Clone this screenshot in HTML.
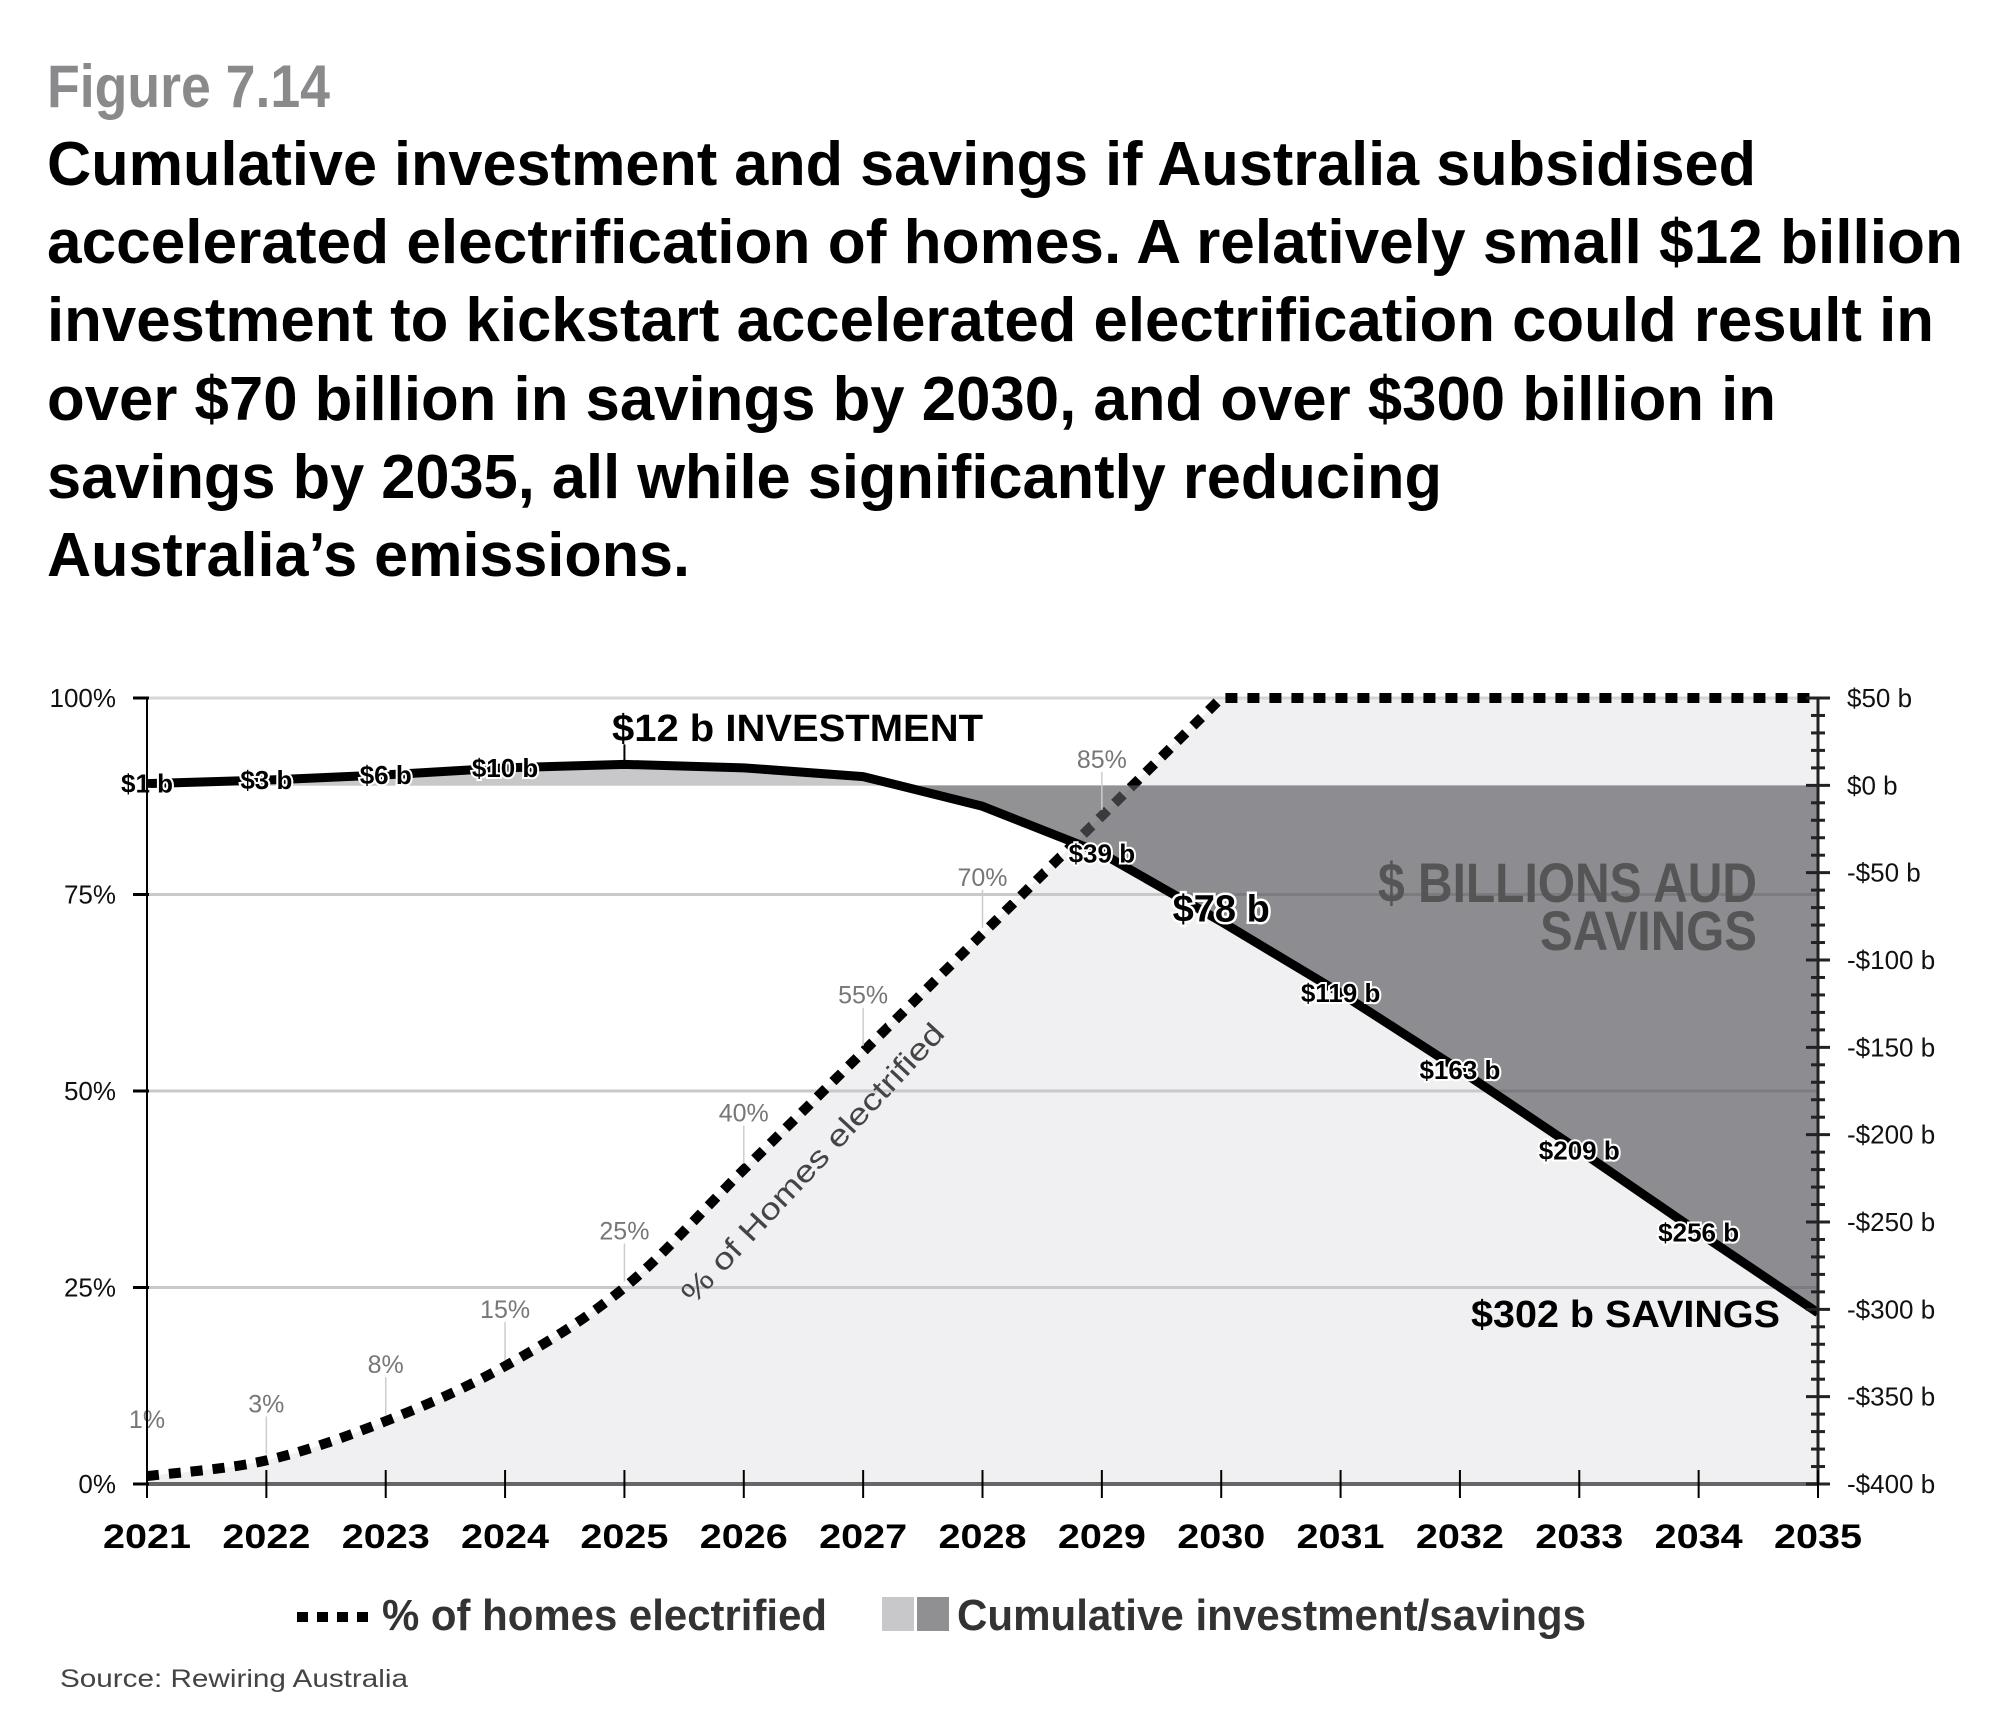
<!DOCTYPE html>
<html><head><meta charset="utf-8"><style>
html,body{margin:0;padding:0;background:#fff;}
svg{display:block;font-family:"Liberation Sans",sans-serif;}
</style></head><body>
<svg id="chart" width="2000" height="1722" viewBox="0 0 2000 1722" xmlns="http://www.w3.org/2000/svg">
<defs>
<clipPath id="clipPos"><rect x="0" y="0" width="2000" height="785"/></clipPath>
<clipPath id="clipNeg"><rect x="0" y="785" width="2000" height="900"/></clipPath>
</defs>
<text x="47" y="107" font-size="60" font-weight="bold" fill="#8a8a8c" textLength="283" lengthAdjust="spacingAndGlyphs">Figure 7.14</text>
<g font-size="62" font-weight="bold" fill="#000">
<text x="47" y="185" textLength="1709" lengthAdjust="spacingAndGlyphs">Cumulative investment and savings if Australia subsidised</text>
<text x="47" y="263" textLength="1916" lengthAdjust="spacingAndGlyphs">accelerated electrification of homes. A relatively small $12 billion</text>
<text x="47" y="341" textLength="1887" lengthAdjust="spacingAndGlyphs">investment to kickstart accelerated electrification could result in</text>
<text x="47" y="420" textLength="1729" lengthAdjust="spacingAndGlyphs">over $70 billion in savings by 2030, and over $300 billion in</text>
<text x="47" y="498" textLength="1395" lengthAdjust="spacingAndGlyphs">savings by 2035, all while significantly reducing</text>
<text x="47" y="576" textLength="643" lengthAdjust="spacingAndGlyphs">Australia’s emissions.</text>
</g>
<g id="plot"></g>
<g>
<g>
<line x1="297" y1="1617" x2="372" y2="1617" stroke="#000" stroke-width="10" stroke-dasharray="11 9"/>
<text x="382" y="1630" font-size="44" font-weight="bold" fill="#333" textLength="445" lengthAdjust="spacingAndGlyphs">% of homes electrified</text>
</g>
<g>
<rect x="882" y="1597" width="32" height="34" fill="#c8c8ca"/>
<rect x="917" y="1597" width="32" height="34" fill="#909092"/>
<text x="957" y="1630" font-size="44" font-weight="bold" fill="#333" textLength="629" lengthAdjust="spacingAndGlyphs">Cumulative investment/savings</text>
</g>
</g>
<text x="60" y="1687" font-size="25" fill="#444" textLength="348" lengthAdjust="spacingAndGlyphs">Source: Rewiring Australia</text>
</svg>
<script>
const years = [2021,2022,2023,2024,2025,2026,2027,2028,2029,2030,2031,2032,2033,2034,2035];
const homesPct = [1,3,8,15,25,40,55,70,85,100,100,100,100,100,100];
const homesLabels = ["1%","3%","8%","15%","25%","40%","55%","70%","85%"];
const savings = [1,3,6,10,12,10,5,-12,-39,-78,-119,-163,-209,-256,-302];
const savingsLabels = ["$1 b","$3 b","$6 b","$10 b","","","","","$39 b","$78 b","$119 b","$163 b","$209 b","$256 b",""];
const leftTicks = [0,25,50,75,100];
const leftTickLabels = ["0%","25%","50%","75%","100%"];
const rightTicks = [50,0,-50,-100,-150,-200,-250,-300,-350,-400];
const rightTickLabels = ["$50 b","$0 b","-$50 b","-$100 b","-$150 b","-$200 b","-$250 b","-$300 b","-$350 b","-$400 b"];

const X0=147, X1=1818, YT=698, YB=1484;
const xs = y => X0 + (y-2021)*(X1-X0)/14;
const yL = p => YB - p*(YB-YT)/100;
const yR = v => yL(0) + (v+400)*(-(YB-YT)/450);
const NS="http://www.w3.org/2000/svg";
const plot=document.getElementById('plot');
function el(tag,attrs,parent){const e=document.createElementNS(NS,tag);for(const k in attrs)e.setAttribute(k,attrs[k]);(parent||plot).appendChild(e);return e;}

function smooth(pts){
  let d=`M${pts[0][0]},${pts[0][1]}`;
  for(let i=0;i<pts.length-1;i++){
    const p0=pts[Math.max(0,i-1)],p1=pts[i],p2=pts[i+1],p3=pts[Math.min(pts.length-1,i+2)];
    let c1y=p1[1]+(p2[1]-p0[1])/6, c2y=p2[1]-(p3[1]-p1[1])/6;
    if(p1[1]===p2[1]){c1y=p1[1];c2y=p2[1];}
    else if(p2[1]===p3[1]){c2y=p2[1]-(p2[1]-p1[1])/3;}
    d+=` C${p1[0]+(p2[0]-p0[0])/6},${c1y} ${p2[0]-(p3[0]-p1[0])/6},${c2y} ${p2[0]},${p2[1]}`;
  }
  return d;
}
const hp=years.map((y,i)=>[xs(y),yL(homesPct[i])]);
const homesPath=smooth(hp);

let e=el('path',{d:homesPath+` L${X1},${YB} L${X0},${YB} Z`,fill:'#f0f0f2'});



leftTicks.forEach((t,i)=>{
  const g=el('line',{x1:X0,x2:X1,y1:yL(t),y2:yL(t),stroke:t===0?'#666':'#d6d6d8','stroke-width':t===0?4:3});
  
  
});

e=el('path',{d:homesPath,fill:'none',stroke:'#000','stroke-width':10,'stroke-dasharray':'12 10'});



const sp=years.map((y,i)=>[xs(y),yR(savings[i])]);
const sPath='M'+sp.map(p=>p.join(',')).join(' L');
const areaD=sPath+` L${X1},${yR(0)} L${X0},${yR(0)} Z`;
e=el('path',{d:areaD,fill:'#c8c8ca','clip-path':'url(#clipPos)'});


e=el('path',{d:areaD,fill:'#5a5a5e','fill-opacity':0.66,'clip-path':'url(#clipNeg)'});


leftTicks.slice(1,4).forEach(t=>{el('line',{x1:X0,x2:X1,y1:yL(t),y2:yL(t),stroke:'#000','stroke-opacity':0.06,'stroke-width':3});});

const ann=el('text',{x:1757,y:902,'font-size':56,'font-weight':'bold',fill:'#555','text-anchor':'end',textLength:379,lengthAdjust:'spacingAndGlyphs'});
ann.textContent='$ BILLIONS AUD';


const ann2=el('text',{x:1757,y:950,'font-size':56,'font-weight':'bold',fill:'#555','text-anchor':'end',textLength:217,lengthAdjust:'spacingAndGlyphs'});
ann2.textContent='SAVINGS';



homesLabels.forEach((lab,i)=>{
  const x=xs(years[i]), y=yL(homesPct[i]);
  const ly=y-48;
  const l=el('line',{x1:x,x2:x,y1:ly+4,y2:y-6,stroke:'#ccc','stroke-width':1.5});
  
  
  const t=el('text',{x:x,y:ly,'font-size':25,fill:'#777','text-anchor':'middle'});
  t.textContent=lab;
  
  
});

const rl=el('text',{x:0,y:0,'font-size':30,fill:'#444','text-anchor':'middle',transform:'translate(820,1170) rotate(-47)',textLength:370,lengthAdjust:'spacingAndGlyphs'});
rl.textContent='% of Homes electrified';



const i25=years.indexOf(2025);
el('line',{x1:xs(2025),x2:xs(2025),y1:yR(savings[i25])-2,y2:yR(savings[i25])-20,stroke:'#000','stroke-width':2});

e=el('path',{d:sPath,fill:'none',stroke:'#000','stroke-width':9,'stroke-linejoin':'round'});



savingsLabels.forEach((lab,i)=>{
  if(!lab) return;
  const big=years[i]===2030;
  const t=el('text',{x:xs(years[i]),y:yR(savings[i])+(big?0:9),'font-size':big?38:26,'font-weight':'bold',fill:'#000','text-anchor':'middle',stroke:'#fff','stroke-width':big?5:4,'paint-order':'stroke'});
  t.textContent=lab;
  
  
});
let t=el('text',{x:612,y:741,'font-size':38,'font-weight':'bold',fill:'#000',textLength:371,lengthAdjust:'spacingAndGlyphs'});
t.textContent='$12 b INVESTMENT';


t=el('text',{x:1780,y:1327,'font-size':38,'font-weight':'bold',fill:'#000','text-anchor':'end',textLength:309,lengthAdjust:'spacingAndGlyphs'});
t.textContent='$302 b SAVINGS';



el('line',{x1:X0,x2:X0,y1:YT,y2:YB,stroke:'#000','stroke-width':2});
leftTicks.forEach((v,i)=>{
  el('line',{x1:X0-14,x2:X0+2,y1:yL(v),y2:yL(v),stroke:'#000','stroke-width':3});
  const tl=el('text',{x:116,y:yL(v)+9,'font-size':26,fill:'#111','text-anchor':'end'});
  tl.textContent=leftTickLabels[i];
  
  
});
el('line',{x1:X1,x2:X1,y1:YT,y2:YB,stroke:'#222','stroke-width':3});
for(let v=50;v>=-400;v-=10){
  const major=v%50===0;
  el('line',{x1:X1-(major?12:7),x2:X1+(major?12:7),y1:yR(v),y2:yR(v),stroke:'#222','stroke-width':3});
}
rightTicks.forEach((v,i)=>{
  const tl=el('text',{x:1847,y:yR(v)+9,'font-size':26,fill:'#111'});
  tl.textContent=rightTickLabels[i];
  
  
});
years.forEach(y=>{
  el('line',{x1:xs(y),x2:xs(y),y1:YB-14,y2:YB+14,stroke:'#000','stroke-width':2});
  const tl=el('text',{x:xs(y),y:1548,'font-size':34,'font-weight':'bold',fill:'#000','text-anchor':'middle',textLength:88,lengthAdjust:'spacingAndGlyphs'});
  tl.textContent=String(y);
  
  
});
</script>
</body></html>
